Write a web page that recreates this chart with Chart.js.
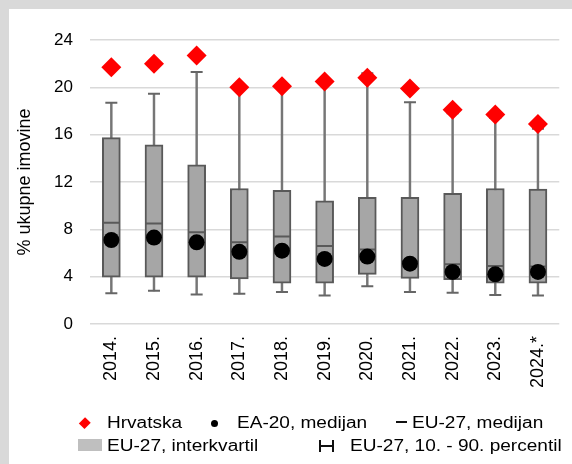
<!DOCTYPE html>
<html>
<head>
<meta charset="utf-8">
<script src="https://cdn.jsdelivr.net/npm/chart.js@4.4.1/dist/chart.umd.min.js"></script>
<style>
  body { margin: 0; background: #d9d9d9; width: 572px; height: 464px; overflow: hidden; position: relative; font-family: "Liberation Sans", Arial, sans-serif; }
  #panel { position: absolute; left: 9px; top: 9px; width: 563px; height: 455px; background: #fff; }
  #chart { position: absolute; left: 0; top: 0; }
  .lg { position: absolute; font-size: 16px; line-height: 16px; color: #000; white-space: nowrap; transform: scaleX(1.19); transform-origin: left center; }
  .mk { position: absolute; }
</style>
</head>
<body>
<div id="panel"><canvas id="chart" width="563" height="455"></canvas></div>

<!-- legend -->
<div class="mk" style="left:81.2px;top:419.2px;width:7.6px;height:7.6px;background:#ff0000;transform:rotate(45deg) scaleY(1.1);"></div>
<div class="lg" style="left:107px;top:414.8px;">Hrvatska</div>
<div class="mk" style="left:211px;top:420px;width:7px;height:7px;border-radius:50%;background:#000;"></div>
<div class="lg" style="left:237px;top:414.8px;">EA-20, medijan</div>
<div class="mk" style="left:396px;top:421px;width:11px;height:1.5px;background:#111;"></div>
<div class="lg" style="left:411.7px;top:414.8px;">EU-27, medijan</div>

<div class="mk" style="left:78px;top:438.5px;width:24px;height:12px;background:#bfbfbf;"></div>
<div class="lg" style="left:107.3px;top:438.2px;">EU-27, interkvartil</div>
<div class="mk" style="left:319px;top:440px;width:2px;height:12px;background:#111;"></div>
<div class="mk" style="left:321px;top:445px;width:10.5px;height:1.5px;background:#111;"></div>
<div class="mk" style="left:331.5px;top:440px;width:2px;height:12px;background:#111;"></div>
<div class="lg" style="left:350px;top:438.2px;">EU-27, 10. - 90. percentil</div>

<script>
// Categories
const years = ['2014.', '2015.', '2016.', '2017.', '2018.', '2019.', '2020.', '2021.', '2022.', '2023.', '2024.*'];

// Hrvatska (red diamonds)
const hrvatska = [21.7, 22.0, 22.7, 20.0, 20.1, 20.5, 20.8, 19.9, 18.1, 17.7, 16.9];
// EA-20 median (black dots)
const ea20Median = [7.1, 7.3, 6.9, 6.1, 6.2, 5.5, 5.7, 5.1, 4.4, 4.2, 4.4];
// EU-27 distribution
const eu27Median = [8.55, 8.5, 7.75, 6.9, 7.4, 6.6, 6.3, 5.3, 5.05, 4.9, 4.85];
const eu27Q1 = [3.95, 3.95, 3.95, 3.8, 3.45, 3.45, 4.2, 3.85, 3.75, 3.45, 3.45];
const eu27Q3 = [15.75, 15.15, 13.45, 11.45, 11.3, 10.4, 10.7, 10.7, 11.05, 11.45, 11.4];
const eu27P10 = [2.6, 2.8, 2.5, 2.55, 2.7, 2.4, 3.2, 2.7, 2.65, 2.45, 2.4];
const eu27P90 = [18.7, 19.45, 21.3, 20.0, 20.0, 20.3, 21.2, 18.75, 17.8, 17.4, 16.5];

// Y axis ticks
const yMin = 0;
const yMax = 24;
const yStep = 4;

const boxRanges = eu27Q1.map((v, i) => [v, eu27Q3[i]]);
const whiskerRanges = eu27P10.map((v, i) => [v, eu27P90[i]]);

const pointSet = (data, extra) => Object.assign({
    type: 'line',
    data: data,
    showLine: false,
    pointHoverRadius: 0
}, extra);

const ctx = document.getElementById('chart').getContext('2d');

new Chart(ctx, {
    type: 'bar',
    data: {
        labels: years,
        datasets: [
            pointSet(hrvatska, {
                label: 'Hrvatska',
                order: 0,
                pointStyle: 'rectRot',
                pointRadius: 10,
                pointBackgroundColor: '#ff0000',
                pointBorderColor: '#ff0000',
                pointBorderWidth: 0
            }),
            pointSet(ea20Median, {
                label: 'EA-20, medijan',
                order: 1,
                pointStyle: 'circle',
                pointRadius: 8,
                pointBackgroundColor: '#000',
                pointBorderColor: '#000',
                pointBorderWidth: 0
            }),
            pointSet(eu27Median, {
                label: 'EU-27, medijan',
                order: 2,
                pointStyle: 'line',
                pointRadius: 8,
                pointBorderColor: '#595959',
                pointBorderWidth: 2
            }),
            pointSet(eu27P90, {
                label: 'p90 cap',
                order: 3,
                pointStyle: 'line',
                pointRadius: 6,
                pointBorderColor: '#666',
                pointBorderWidth: 2
            }),
            pointSet(eu27P10, {
                label: 'p10 cap',
                order: 3,
                pointStyle: 'line',
                pointRadius: 6,
                pointBorderColor: '#666',
                pointBorderWidth: 2
            }),
            {
                label: 'EU-27, interkvartil',
                order: 4,
                data: boxRanges,
                backgroundColor: '#a6a6a6',
                borderColor: '#595959',
                borderWidth: 2,
                borderSkipped: false,
                barThickness: 18,
                grouped: false
            },
            {
                label: 'EU-27, 10. - 90. percentil',
                order: 5,
                data: whiskerRanges,
                backgroundColor: '#767676',
                borderWidth: 0,
                barThickness: 1.8,
                grouped: false
            }
        ]
    },
    options: {
        responsive: false,
        animation: false,
        devicePixelRatio: 1,
        events: [],
        layout: {
            padding: { left: 0, top: 31, right: 2, bottom: 0 }
        },
        plugins: {
            legend: { display: false },
            tooltip: { enabled: false }
        },
        scales: {
            x: {
                grid: { display: false, drawTicks: false },
                border: { display: false },
                ticks: {
                    color: '#000',
                    font: { family: '"Liberation Sans", Arial, sans-serif', size: 18 },
                    minRotation: 90,
                    maxRotation: 90,
                    autoSkip: false,
                    padding: 12
                },
                afterFit: scale => { scale.height = 140; }
            },
            y: {
                min: yMin,
                max: yMax,
                grid: { color: '#d9d9d9', lineWidth: 1.6, drawTicks: false },
                border: { display: false },
                ticks: {
                    stepSize: yStep,
                    color: '#000',
                    font: { family: '"Liberation Sans", Arial, sans-serif', size: 17 },
                    padding: 17
                },
                title: {
                    display: true,
                    text: '% ukupne imovine',
                    color: '#000',
                    font: { family: '"Liberation Sans", Arial, sans-serif', size: 18 },
                    padding: { top: 5, bottom: 0 }
                },
                afterFit: scale => { scale.width = 81; }
            }
        }
    }
});
</script>
</body>
</html>
